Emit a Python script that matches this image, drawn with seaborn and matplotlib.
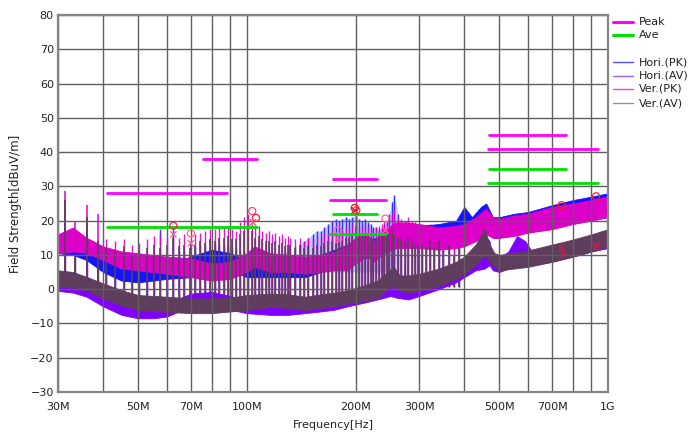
import matplotlib
matplotlib.use("Agg")
import numpy as np
import pandas as pd
import matplotlib.pyplot as plt
from matplotlib.lines import Line2D
import seaborn as sns

# --- data (frequency in MHz, level in dBuV/m) ---
# limit lines: (start MHz, end MHz, level)
peak_segs = [(41, 88, 28), (75.6, 107, 38), (173, 230, 32), (170, 243, 26),
             (469, 766, 45), (466, 940, 41)]
ave_segs = [(41, 107, 18), (173, 230, 22), (170, 243, 16),
            (469, 766, 35), (466, 940, 31)]

# noise floor envelopes of the four traces
hpk_f = [30, 33, 36, 40, 45, 50, 55, 60, 70, 80, 90, 100, 116, 130, 145, 160, 175, 190,
         210, 230, 250, 270, 300, 340, 380, 400, 420, 445, 460, 480, 500, 550, 600, 700,
         800, 900, 1000]
hpk_lo = [10.5, 10, 8.5, 5, 2.5, 2, 2.5, 3, 3.5, 6.5, 5.5, 3.5, 3.5, 3.5, 3.5, 5, 6.5, 8,
          9, 10, 12, 13, 13, 13.5, 14, 15, 14.5, 16, 17, 15, 15, 16, 16.5, 18, 19.5, 20.5, 21.5]
hpk_hi = [13, 13, 12.5, 9.5, 6.5, 6.5, 7, 7.5, 9.5, 11.5, 10.5, 8.5, 7.5, 8, 8.5, 10, 11.5, 13,
          14, 15, 17, 18, 18.5, 19, 20, 24, 21, 24, 25, 21, 21, 22, 22.5, 24.5, 26, 27, 28]

vpk_f = [30, 33, 36, 40, 45, 50, 60, 70, 80, 90, 100, 105, 116, 130, 145, 160, 175, 190, 200,
         215, 225, 240, 260, 280, 300, 340, 380, 400, 430, 460, 480, 500, 550, 600, 700, 800,
         900, 1000]
vpk_lo = [10.5, 11, 10.5, 8.5, 6, 5.5, 4.5, 3.5, 2.5, 3, 5, 6.5, 5, 5, 4.5, 5, 5.5, 5.5, 7.5,
          9.5, 8, 10.5, 12, 12, 12, 11.5, 12, 12.5, 14, 16, 15, 15, 15.5, 16.5, 17.5, 19, 20, 21]
vpk_hi = [16, 18, 15, 12.5, 11, 10.5, 9.5, 9, 7.5, 8, 10.5, 12.5, 10.5, 10, 9.5, 10, 11, 13, 15,
          16, 14, 17.5, 19.5, 19.5, 19, 18, 18.5, 19, 21, 23.5, 21, 20.5, 21.5, 22, 24, 25, 26, 27]

hav_f = [30, 33, 36, 40, 45, 50, 55, 60, 70, 80, 90, 100, 116, 130, 145, 160, 175, 190, 210,
         230, 250, 260, 280, 300, 340, 380, 400, 430, 455, 470, 480, 500, 530, 560, 590, 620,
         700, 800, 900, 1000]
hav_lo = [-0.5, -1, -2.2, -5, -7.5, -8.5, -8.5, -8, -5, -5, -6, -7, -7.5, -7.5, -7, -6.5, -6, -5,
          -4, -3, -2, -2.5, -3, -2, 0, 2, 3.5, 5.5, 6, 7, 5.5, 5, 6, 7, 7, 7, 8, 9.5, 11, 12]
hav_hi = [2.5, 2, 0.7, -1.3, -3.2, -5, -4.5, -4.2, -1.3, -0.8, -2, -3.2, -4.2, -4.2, -4.7, -4, -3,
          -2, -0.5, 0.5, 1.5, 1, 0.5, 1, 4, 6, 8, 11, 16, 14, 8.5, 9, 11, 15.5, 14, 10.5, 12,
          13.5, 15, 16.5]

vav_f = [30, 33, 36, 40, 45, 50, 60, 70, 80, 90, 100, 116, 130, 145, 160, 175, 190, 210, 230,
         245, 255, 265, 280, 300, 340, 380, 400, 430, 455, 470, 485, 500, 600, 700, 800, 900, 1000]
vav_lo = [0.7, 0.5, -0.3, -2.7, -4.7, -6.1, -6.6, -7, -7, -6.5, -6.1, -5.1, -5.5, -6.1, -5.5, -5,
          -4.2, -3.5, -2.5, 0, 1, -0.5, -1, -0.5, 1, 3, 4.5, 7, 10, 8, 6.5, 5.5, 6.5, 8, 9.5, 11, 12.5]
vav_hi = [5.5, 5, 3.6, 1.7, -0.3, -1.7, -2.2, -2.7, -2.7, -2.5, -1.7, -1.3, -1.5, -2.2, -1.5, -1,
          -0.3, 1, 2.5, 5, 6.5, 4, 4, 4.5, 6, 8, 9.5, 13, 17.5, 13, 10.5, 10, 11.3, 13, 14.5, 16, 17.5]

# tall low-frequency spikes
low_spk_f = [31.4, 33.5, 36.2, 38.8]
low_spk_vpk = [28.5, 20, 24.5, 22]
low_spk_vav = [26, 9, 21, 14]
low_spk_hpk = [14, 13, 14, 12]

# harmonic comb spikes
comb_f = [40.8, 43.2, 45.6, 48.0, 50.4, 52.8, 55.2, 57.6, 60.0, 62.4, 64.8, 67.2, 69.6, 72.0,
          74.4, 76.8, 79.2, 81.6, 84.0, 86.4, 88.8, 91.2, 93.6, 96.0, 98.4, 100.8, 103.2, 105.6,
          108.0, 110.4, 112.8, 115.2, 117.6, 120.0, 122.4, 124.8, 127.2, 129.6, 132, 136, 140,
          144, 148, 152, 156, 160, 164, 168, 172, 176, 180, 184, 188, 192, 196, 200, 204, 208,
          212, 216, 220, 224, 228, 232, 236, 240, 244, 248, 252, 256, 262, 268, 274, 280, 286,
          292, 298, 306, 314, 322, 330, 340, 350, 362, 374, 386]
comb_vpk = [14.5, 14, 14.5, 13, 13.5, 14.5, 15.5, 16, 15, 17, 15, 16, 14, 16, 16.5, 17, 17.5,
            17.5, 18, 18, 18.5, 17.5, 17, 19.5, 21, 22, 19, 18, 18.5, 17, 16.5, 17, 16, 16.5,
            15.5, 16, 15, 15.5, 15, 14.5, 15, 14, 15, 14.5, 15.5, 15, 16, 16.5, 17, 16, 17.5,
            17, 18, 17.5, 19, 21, 18.5, 18, 19, 18, 17.5, 17, 18, 18.5, 19, 20, 19.5, 21, 22,
            23, 21, 20.5, 20, 21, 20, 19.5, 19, 19, 18.5, 19, 18.5, 19, 18.5, 19, 19, 19.5]
comb_vav = [12, 11, 12.5, 10, 11, 12, 13, 12, 13, 15, 12.5, 13, 12, 13, 14, 13.5, 14.5, 14, 15,
            15, 15.5, 14.5, 14.5, 16, 17, 18, 17, 15, 15.5, 14.5, 14, 14, 13.5, 14, 13, 13.5,
            12.5, 13, 13, 12, 13, 12, 12.5, 12, 13, 12.5, 13.5, 14, 14, 13.5, 15, 14, 15, 15,
            16, 18, 16, 15.5, 16, 15, 15, 14.5, 15, 15.5, 16, 16.5, 16, 17, 17.5, 16, 15, 14.5,
            14, 15, 14, 13, 13, 13, 12, 14, 12, 14, 11, 13, 10, 12]
comb_hpk = [10, 9, 9, 8, 8, 9, 10, 17.5, 10, 18, 11, 11, 12, 12, 13, 13, 14, 13, 13, 13, 12.5,
            12, 12, 11, 11, 11, 10, 10, 10, 9.5, 9.5, 9.5, 9.5, 10, 10, 10.5, 11, 11, 12, 12.5,
            13, 14, 15, 16, 17, 17, 18, 19, 20, 20.5, 20, 20.5, 21, 20.5, 21, 21.5, 20.5, 20,
            20.5, 19.5, 19, 18, 18, 17.5, 18, 19, 19.5, 22, 25.5, 27.5, 22, 19, 18, 18.5, 18,
            18, 18, 18, 17.5, 18, 18, 18.5, 18, 18.5, 18.5, 19]

# measured points
circ_f = [62.6, 70.0, 103.5, 106, 179, 199, 201, 242, 744, 927]
circ_v = [18.5, 16.3, 22.8, 20.8, 17.2, 23.7, 23.0, 20.6, 24.5, 27.1]
circ_c = ["#ff2050", "#ff60a0", "#ff4080", "#ff2030", "#ff60a0", "#ff1010", "#ff3040",
          "#ff60a0", "#ff2020", "#ff2020"]
cross_f = [62.6, 70.0, 104, 179, 199, 242, 744, 750, 927, 932]
cross_v = [16.0, 13.4, 19.5, 14.3, 23.0, 17.2, 11.9, 10.5, 12.8, 12.3]
cross_c = ["#ff60a0", "#ff60a0", "#ff4080", "#ff60a0", "#e02040", "#ff60a0", "#c02050",
           "#c02050", "#c02050", "#c02050"]

grid_f = [30, 40, 50, 60, 70, 80, 90, 100, 200, 300, 400, 500, 600, 700, 800, 900, 1000]
grid_lbl = ["30M", "", "50M", "", "70M", "", "", "100M", "200M", "300M", "",
            "500M", "", "700M", "", "", "1G"]
y_ticks = list(range(-30, 90, 10))

# --- colours ---
C_HPK, C_HAV, C_VPK, C_VAV = "#1414ff", "#8000ff", "#dc00c8", "#5f3d5c"
C_PEAK, C_AVE = "#ff00ff", "#00e000"

sns.set_theme(style="white")
plt.rcParams["font.family"] = ["DejaVu Sans"]

fig = plt.figure(figsize=(6.97, 4.33), dpi=100)
ax = fig.add_axes([0.0832, 0.0947, 0.7891, 0.8707])
ax.set_xscale("log")

comb_f_arr = np.array(comb_f)
comb_base = np.where(comb_f_arr < 230, -3.0, 0.5)

# light blue haze between the horizontal-polarisation spikes (150-260 MHz)
haze = (comb_f_arr >= 140) & (comb_f_arr <= 262)
ax.fill_between(comb_f_arr[haze], 5, np.array(comb_hpk)[haze], color="#a8a8ff",
                alpha=0.6, lw=0, zorder=0.8)

# spikes first, bands on top of them
ax.vlines(comb_f, comb_base, comb_hpk, color=C_HPK, lw=1.0, alpha=0.85, zorder=1)
ax.vlines(low_spk_f, 1, low_spk_hpk, color=C_HPK, lw=1.0, zorder=1)
ax.vlines(comb_f, comb_base, comb_vpk, color=C_VPK, lw=1.0, alpha=0.9, zorder=1.2)
ax.vlines(low_spk_f, 1, low_spk_vpk, color=C_VPK, lw=1.1, zorder=1.2)

ax.fill_between(hpk_f, hpk_lo, hpk_hi, color=C_HPK, lw=0.6, zorder=1.5)
ax.fill_between(vpk_f, vpk_lo, vpk_hi, color=C_VPK, lw=0.6, zorder=1.6)

ax.vlines(comb_f, comb_base, comb_vav, color=C_VAV, lw=1.3, alpha=0.9, zorder=1.7)
ax.vlines(low_spk_f, 1, low_spk_vav, color=C_VAV, lw=1.3, zorder=1.7)

ax.fill_between(hav_f, hav_lo, hav_hi, color=C_HAV, lw=0.6, zorder=1.8)
ax.fill_between(vav_f, vav_lo, vav_hi, color=C_VAV, lw=0.6, zorder=1.9)

# limit lines
def seg_frame(segs):
    rows = []
    for i, (a, b, v) in enumerate(segs):
        rows.append({"seg": i, "f": a, "v": v})
        rows.append({"seg": i, "f": b, "v": v})
    return pd.DataFrame(rows)

sns.lineplot(data=seg_frame(peak_segs), x="f", y="v", units="seg", estimator=None,
             color=C_PEAK, lw=2, ax=ax, legend=False, zorder=4)
sns.lineplot(data=seg_frame(ave_segs), x="f", y="v", units="seg", estimator=None,
             color=C_AVE, lw=2, ax=ax, legend=False, zorder=4)

ax.scatter(circ_f, circ_v, s=26, facecolors="none", edgecolors=circ_c, lw=0.9, zorder=5)
ax.scatter(cross_f, cross_v, s=22, marker="x", c=cross_c, lw=0.9, zorder=5)

# axes, grid
ax.set_xlim(30, 1000)
ax.set_ylim(-30, 80)
ax.set_xticks(grid_f)
ax.set_xticklabels(grid_lbl)
ax.xaxis.set_minor_locator(matplotlib.ticker.NullLocator())
ax.set_yticks(y_ticks)
ax.grid(True, color="#606060", lw=1.0)
ax.set_axisbelow(False)
for ln in ax.get_xgridlines() + ax.get_ygridlines():
    ln.set_zorder(3)
for sp in ax.spines.values():
    sp.set_color("#858585")
    sp.set_linewidth(1.6)
    sp.set_zorder(6)
ax.tick_params(axis="both", length=0, labelsize=8, colors="#222222")
ax.tick_params(axis="x", pad=7)
ax.tick_params(axis="y", pad=3)
ax.set_xlabel("Frequency[Hz]", fontsize=8, color="#222222", labelpad=6)
ax.set_ylabel("Field Strength[dBuV/m]", fontsize=8.5, color="#222222", labelpad=6)

# legend on the right
legend_rows = [("Peak", C_PEAK, 2.2, 0.9492), ("Ave", C_AVE, 2.2, 0.9192),
               ("Hori.(PK)", "#4f4fff", 1.0, 0.8568), ("Hori.(AV)", "#9f5fff", 1.0, 0.8245),
               ("Ver.(PK)", "#ff33e0", 1.0, 0.7945), ("Ver.(AV)", "#a38a9c", 1.0, 0.7621)]
for name, col, lw, yy in legend_rows:
    fig.add_artist(Line2D([0.8795, 0.9082], [yy, yy], color=col, lw=lw,
                          transform=fig.transFigure))
    fig.text(0.9168, yy, name, fontsize=8, color="#222222", va="center", ha="left")

fig.savefig("out.png", dpi=100)
